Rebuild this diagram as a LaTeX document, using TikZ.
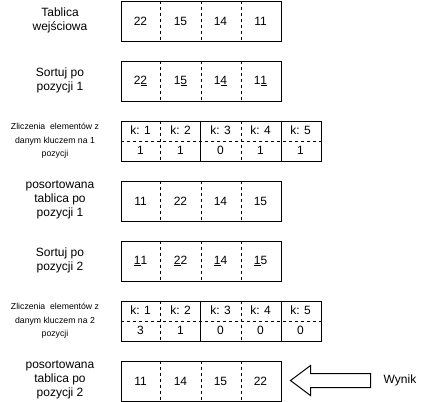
\documentclass[tikz,border=0pt]{standalone}
\usepackage{fontspec}
\setmainfont{Liberation Sans}
\usetikzlibrary{calc}
\tikzset{
  rowbox/.style={draw, line width=1pt, minimum width=160pt, minimum height=40pt, inner sep=0pt, anchor=north west},
  cntbox/.style={draw, line width=1pt, minimum width=200pt, minimum height=40pt, inner sep=0pt, anchor=north west},
  cell/.style={font=\fontsize{12}{14}\selectfont, inner sep=0pt},
  lbl/.style={font=\fontsize{12}{14}\selectfont, align=center, inner sep=0pt},
  slbl/.style={font=\fontsize{8.7}{13.5}\selectfont, align=center, inner sep=0pt},
  dsh/.style={line width=0.8pt, dash pattern=on 3pt off 3pt},
  sld/.style={line width=1pt},
}
\newcommand{\ul}[1]{\underline{#1}}
\begin{document}
\begin{tikzpicture}[x=1pt,y=-1pt]
\useasboundingbox (0,0) rectangle (421,402);
% four-cell rows
\foreach \n/\y in {r1/0,r2/60,r4/180,r5/240,r7/360}{
  \node[rowbox] (\n) at (120.5,\y+0.5) {};
  \foreach \f in {0.25,0.5,0.75}
    \draw[dsh] ($(\n.north west)!\f!(\n.north east)$) -- ($(\n.south west)!\f!(\n.south east)$);
}
% count rows
\foreach \n/\y in {r3/120,r6/300}{
  \node[cntbox] (\n) at (120.5,\y+0.5) {};
  \draw[dsh] (\n.west) -- (\n.east);
  \foreach \f in {0.2,0.6}
    \draw[dsh] ($(\n.north west)!\f!(\n.north east)$) -- ($(\n.south west)!\f!(\n.south east)$);
  \foreach \f in {0.4,0.8}
    \draw[sld] ($(\n.north west)!\f!(\n.north east)$) -- ($(\n.south west)!\f!(\n.south east)$);
}
% cell texts
\foreach \n/\a/\b/\c/\d in {r1/22/15/14/11, r2/2\ul{2}/1\ul{5}/1\ul{4}/1\ul{1}, r4/11/22/14/15, r5/\ul{1}1/\ul{2}2/\ul{1}4/\ul{1}5, r7/11/14/15/22}{
  \node[cell] (\n a) at ($(\n.west)+(20,0)$) {\a};
  \node[cell] (\n b) at ($(\n.west)+(60,0)$) {\b};
  \node[cell] (\n c) at ($(\n.west)+(100,0)$) {\c};
  \node[cell] (\n d) at ($(\n.west)+(140,0)$) {\d};
}
\foreach \n/\a/\b/\c/\d/\e in {r3/1/1/0/1/1, r6/3/1/0/0/0}{
  \foreach \i/\v [count=\k] in {1/\a,2/\b,3/\c,4/\d,5/\e}{
    \node[cell] (\n k\k) at ($(\n.north west)+(40*\k-20,10)$) {k: \i};
    \node[cell] (\n v\k) at ($(\n.north west)+(40*\k-20,30)$) {\v};
  }
}
% labels
\node[lbl] (l1) at (60,20) {Tablica\\wejściowa};
\node[lbl] (l2) at (60,80) {Sortuj po\\pozycji 1};
\node[slbl] (l3) at (55,141) {Zliczenia~ elementów z\\danym kluczem na 1\\pozycji};
\node[lbl] (l4) at (60,200) {posortowana\\tablica po\\pozycji 1};
\node[lbl] (l5) at (60,260) {Sortuj po\\pozycji 2};
\node[slbl] (l6) at (55,321) {Zliczenia~ elementów z\\danym kluczem na 2\\pozycji};
\node[lbl] (l7) at (60,380) {posortowana\\tablica po\\pozycji 2};
\node[lbl] (wynik) at (400,380) {Wynik};
% block arrow
\draw[line width=1pt, line join=miter] (290.5,380.5) -- (310.5,365.5) -- (310.5,373.5) -- (370.5,373.5) -- (370.5,387.5) -- (310.5,387.5) -- (310.5,395.5) -- cycle;
\end{tikzpicture}
\end{document}
